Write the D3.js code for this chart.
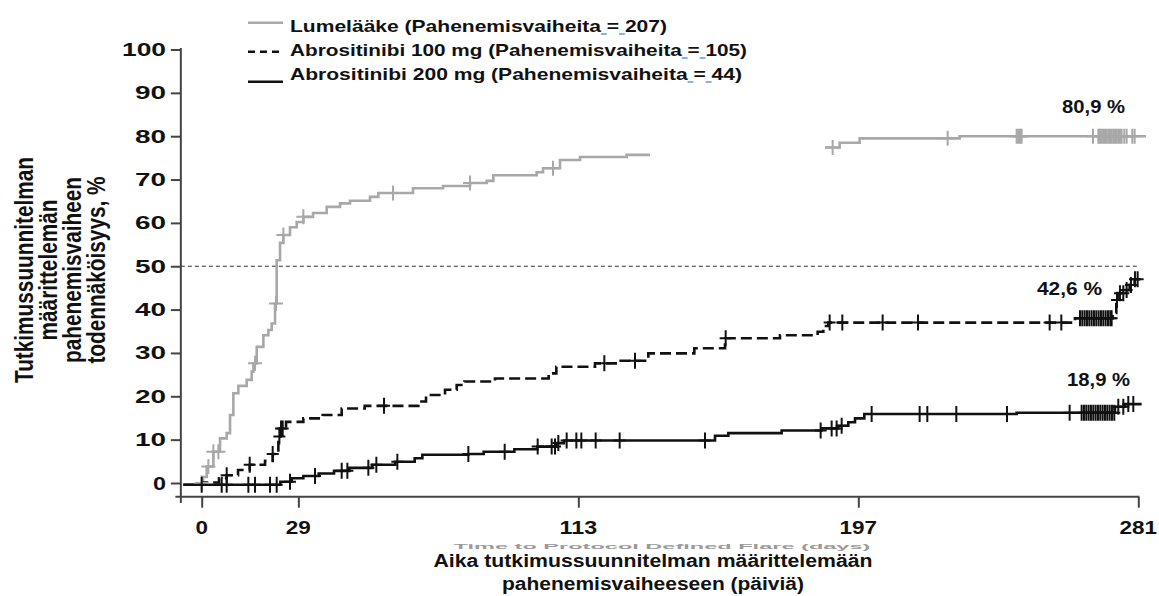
<!DOCTYPE html>
<html><head><meta charset="utf-8">
<script src="https://cdn.jsdelivr.net/npm/d3@7"></script>
<style>
body{margin:0;background:#fff}
svg{display:block}
text{font-family:"Liberation Sans",Arial,sans-serif;font-weight:bold;fill:#111}
</style>
</head><body>
<svg id="c" width="1159" height="596"></svg>
<script>
// ---------------- data ----------------
const xTicks = [0, 29, 113, 197, 281];
const yTicks = [0, 10, 20, 30, 40, 50, 60, 70, 80, 90, 100];
const referenceLevel = 50;

const legendLabels = [
  "Lumelääke (Pahenemisvaiheita = 207)",
  "Abrositinibi 100 mg (Pahenemisvaiheita = 105)",
  "Abrositinibi 200 mg (Pahenemisvaiheita = 44)"
];
const endLabels = ["80,9 %", "42,6 %", "18,9 %"];
const yTitleLines = ["Tutkimussuunnitelman", "määrittelemän", "pahenemisvaiheen", "todennäköisyys, %"];
const xTitleLines = ["Aika tutkimussuunnitelman määrittelemään", "pahenemisvaiheeseen (päiviä)"];
const ghostTitle = "Time to Protocol Defined Flare (days)";

// Kaplan-Meier steps [day, cumulative %]
const placeboA = [[0,0],[0.4,1.4],[1.5,3.8],[3.5,7.2],[5.5,10.3],[7.5,11.5],[8.5,15.7],[9.5,20.7],[11,22.4],[13.5,23.8],[15,25.7],[15.5,27.6],[16.5,31.4],[18.5,34.1],[20,35.3],[21,36.8],[22,41.4],[22.5,51.4],[23.5,55.4],[24.5,57.2],[26.5,59.0],[28.5,60.2],[30.5,61.4],[33.4,62.3],[37.5,63.7],[41.5,64.5],[44.5,65.1],[50.5,66.0],[53,66.9],[63.4,68.0],[72.4,68.5],[80.5,69.2],[85.5,69.7],[87.5,71.0],[100.5,71.7],[102.4,72.6],[107.5,74.5],[113.5,75.2],[127.5,75.7],[134.5,75.7]];
const placeboB = [[187,77.4],[191.4,78.5],[197.4,79.5],[227.4,80.0],[283.3,80.0]];
const abro100 = [[-5.5,-0.4],[0.6,0.1],[5.2,1.1],[7.5,1.8],[10.9,3.0],[14.4,4.2],[19,5.1],[21.3,6.7],[23,10.7],[23.6,12.6],[25.3,14.1],[30.5,14.9],[36.3,15.7],[42,17.2],[48.9,17.8],[65,18.8],[67.3,20.3],[73,21.5],[76.5,22.6],[78.8,23.4],[88,24.1],[104.1,25.3],[106.4,26.8],[118,27.6],[125,28.2],[134,29.9],[147.8,31.1],[157,33.4],[173.5,34.1],[184.8,34.9],[186.5,36.2],[188,37.0],[262,38.0],[273.3,39.2],[274.4,42.2],[274.8,43.8],[276.8,44.5],[278.4,45.7],[279.9,47.0],[281.5,47.0]];
const abro200 = [[-5.5,-0.4],[23.6,0.3],[27,1.1],[30.5,1.6],[35.1,2.2],[39.7,2.8],[44.3,3.5],[51.2,4.2],[58.1,4.9],[63.9,5.7],[66.2,6.5],[80,6.7],[84.6,7.2],[93.8,7.8],[100.7,8.4],[106.4,9.2],[108.7,9.8],[154,10.9],[158,11.5],[174,12.1],[186,12.6],[191,13.2],[194,14.0],[196,14.9],[198.8,15.9],[244.5,16.2],[274,17.6],[277,18.2],[282,18.2]];

// censoring days
const placeboCensor = [0,2,3.5,5,16,22.3,24.5,30.5,57.4,80.5,105.4,189.3,223.8,244.5,245,245.5,246,267.4,269,269.5,270,270.5,271,271.5,272,272.5,273,273.5,274,274.5,275,275.5,276,276.8,277.5,279.2,279.9];
const abro100Censor = [7.5,14.4,21.3,23.3,23.8,24.3,54.7,120.8,130,157.2,188.4,192.2,204.3,214.9,254.4,257.9,263.5,264.2,264.9,265.6,266.3,267,267.7,268.4,269.1,269.8,270.5,271.2,271.9,272.6,273,274.6,275.5,276.5,277.5,278.8,280,280.8];
const abro200Censor = [0,6,7.5,14,16,20.5,22.5,26.5,34,42,43.7,50,52.4,58.7,80,90.9,100.8,105,106,107,109.5,112.4,113.9,118.2,125.4,151,185.7,189,190.5,192,201,215.4,217.7,226.4,241.6,260.4,264,264.7,265.4,266.1,266.8,267.5,268.2,268.9,269.6,270.3,271,271.7,272.4,273.1,273.8,275,276.5,278,279.5];

// ---------------- drawing ----------------
const svg = d3.select('#c');
const x = d3.scaleLinear().domain([0, 281]).range([201.7, 1138.3]);
const y = d3.scaleLinear().domain([0, 100]).range([483, 49.5]);
const GRAY = '#a8a8a8', BLACK = '#111', AXIS = '#444';

function fit(g, str, size, w, xs, yb, anchor) {
  const t = g.append('text').attr('font-size', size).text(str);
  const nat = t.node().getComputedTextLength();
  const x0 = anchor === 'middle' ? xs - w / 2 : anchor === 'end' ? xs - w : xs;
  t.attr('x', x0).attr('y', yb).attr('textLength', w).attr('lengthAdjust', 'spacingAndGlyphs');
  return {t, nat, x0};
}
function measure(str, size) {
  const t = svg.append('text').attr('font-size', size).text(str);
  const w = t.node().getComputedTextLength();
  t.remove();
  return w;
}

// reference line at 50 %
svg.append('line')
  .attr('x1', x(-6.26)).attr('x2', x(281)).attr('y1', y(referenceLevel)).attr('y2', y(referenceLevel))
  .attr('stroke', '#333').attr('stroke-width', 1.2).attr('stroke-dasharray', '4,3');

// axes
const gy = svg.append('g').attr('transform', `translate(${x(-6.26)},0)`)
  .call(d3.axisLeft(y).tickValues(yTicks).tickSize(10).tickFormat(''));
gy.select('.domain').remove();
gy.selectAll('line').attr('stroke', AXIS).attr('stroke-width', 2);
svg.append('line').attr('x1', x(-6.26)).attr('x2', x(-6.26)).attr('y1', y(100) - 1.5).attr('y2', y(-4.6))
  .attr('stroke', AXIS).attr('stroke-width', 2);

const gx = svg.append('g').attr('transform', `translate(0,${y(-3.16)})`)
  .call(d3.axisBottom(x).tickValues(xTicks).tickSize(11).tickFormat(''));
gx.select('.domain').remove();
gx.selectAll('line').attr('stroke', AXIS).attr('stroke-width', 2);
svg.append('line').attr('x1', x(-7.9)).attr('x2', x(281) + 1).attr('y1', y(-3.16)).attr('y2', y(-3.16))
  .attr('stroke', AXIS).attr('stroke-width', 2);

// tick labels
const gl = svg.append('g');
yTicks.forEach(v => {
  const s = String(v);
  const w = s.length === 1 ? 13 : s.length === 2 ? 31 : 44;
  fit(gl, s, 18, w, 166, y(v) + 6.5, 'end');
});
xTicks.forEach(v => {
  const s = String(v);
  fit(gl, s, 18, 12.5 * s.length, x(v), 534, 'middle');
});

// curves
const line = d3.line().x(d => x(d[0])).y(d => y(d[1])).curve(d3.curveStepAfter);
const curves = svg.append('g').attr('fill', 'none');
curves.append('path').attr('d', line(placeboA)).attr('stroke', GRAY).attr('stroke-width', 2.6);
curves.append('path').attr('d', line(placeboB)).attr('stroke', GRAY).attr('stroke-width', 2.6);
curves.append('path').attr('d', line(abro100)).attr('stroke', BLACK).attr('stroke-width', 2.6).attr('stroke-dasharray', '11,5');
curves.append('path').attr('d', line(abro200)).attr('stroke', BLACK).attr('stroke-width', 2.6);

function valAt(series, d) {
  let v = series[0][1];
  for (const p of series) if (p[0] <= d) v = p[1];
  return v;
}
function censor(days, series, color, hw, hh) {
  const g = svg.append('g').attr('stroke', color).attr('stroke-width', 2).attr('fill', 'none');
  days.forEach(d => {
    const cx = x(d), cy = y(valAt(series, d));
    g.append('path').attr('d', `M${cx - hw},${cy}H${cx + hw}M${cx},${cy - hh}V${cy + hh}`);
  });
}
censor(placeboCensor, placeboA.concat(placeboB), GRAY, 7, 7.5);
censor(abro100Censor, abro100, BLACK, 6, 8);
censor(abro200Censor, abro200, BLACK, 6, 8);

// end labels
const endPos = [[1062, 113, 63], [1037, 295, 65], [1067, 386, 63]];
endLabels.forEach((s, i) => fit(gl, s, 18, endPos[i][2], endPos[i][0], endPos[i][1], 'start'));

// legend
const lg = svg.append('g');
lg.append('line').attr('x1', 248).attr('x2', 283).attr('y1', 22.7).attr('y2', 22.7).attr('stroke', GRAY).attr('stroke-width', 2.4);
lg.append('line').attr('x1', 248).attr('x2', 283).attr('y1', 51.7).attr('y2', 51.7).attr('stroke', BLACK).attr('stroke-width', 2.4).attr('stroke-dasharray', '7,5');
lg.append('line').attr('x1', 248).attr('x2', 283).attr('y1', 81.7).attr('y2', 81.7).attr('stroke', BLACK).attr('stroke-width', 2.4);
const legW = [377, 457, 452], legB = [32, 56, 80];
legendLabels.forEach((s, i) => {
  const r = fit(lg, s, 17, legW[i], 290, legB[i], 'start');
  const k = legW[i] / r.nat;
  const e = s.indexOf(' =');
  const a = measure(s.slice(0, e), 17);
  const b = measure(s.slice(0, e + 2), 17);
  const eq = measure('=', 17);
  const c = measure(s.slice(0, e + 4), 17);
  const dg = measure(s[e + 3], 17);
  [[a, b - eq], [b, c - dg]].forEach(([p, q]) => {
    lg.append('line').attr('x1', r.x0 + p * k).attr('x2', r.x0 + q * k)
      .attr('y1', legB[i] + 2).attr('y2', legB[i] + 2)
      .attr('stroke', '#5b9bd5').attr('stroke-width', 1.5);
  });
});

// y title
const yBase = [33, 57, 80.5, 105];
yTitleLines.forEach((s, i) => {
  svg.append('text').attr('font-size', 20.8).attr('text-anchor', 'middle')
    .attr('transform', `translate(${yBase[i]},270) scale(1.25,1) rotate(-90)`).text(s);
});

// ghost title: only a thin sliver shows above the axis title in the source
const gn = measure(ghostTitle, 17);
svg.append('text').attr('font-size', 17).style('fill', '#9a9a9a')
  .attr('transform', `translate(${662 - 417 / 2},549) scale(${417 / gn},0.4)`)
  .text(ghostTitle);

// x title
fit(svg, xTitleLines[0], 18, 439, 653, 567, 'middle');
fit(svg, xTitleLines[1], 18, 302, 653, 590, 'middle');
</script>
</body></html>
